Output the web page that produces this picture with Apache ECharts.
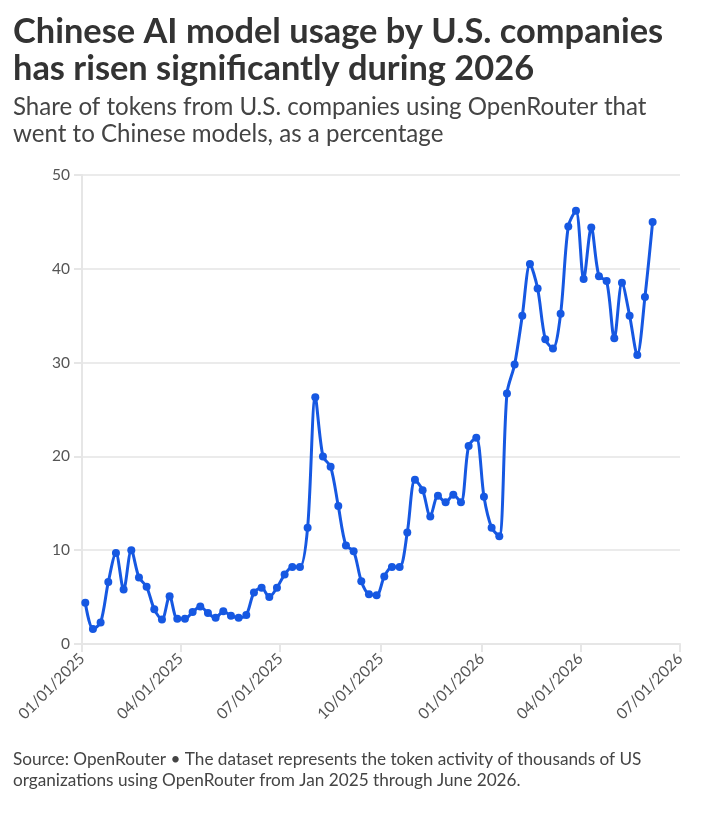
<!DOCTYPE html>
<html>
<head>
<meta charset="utf-8">
<script src="https://cdn.jsdelivr.net/npm/echarts@6/dist/echarts.min.js"></script>
<style>
html,body{margin:0;padding:0;background:#fff;}
#chart{width:727px;height:832px;}
</style>
</head>
<body>
<div id="chart"></div>
<script>
// ---- data ----
const weekDates = [
 '2025-01-04','2025-01-11','2025-01-18','2025-01-25','2025-02-01','2025-02-08','2025-02-15','2025-02-22',
 '2025-03-01','2025-03-08','2025-03-15','2025-03-22','2025-03-29','2025-04-05','2025-04-12','2025-04-19',
 '2025-04-26','2025-05-03','2025-05-10','2025-05-17','2025-05-24','2025-05-31','2025-06-07','2025-06-14',
 '2025-06-21','2025-06-28','2025-07-05','2025-07-12','2025-07-19','2025-07-26','2025-08-02','2025-08-09',
 '2025-08-16','2025-08-23','2025-08-30','2025-09-06','2025-09-13','2025-09-20','2025-09-27','2025-10-04',
 '2025-10-11','2025-10-18','2025-10-25','2025-11-01','2025-11-08','2025-11-15','2025-11-22','2025-11-29',
 '2025-12-06','2025-12-13','2025-12-20','2025-12-27','2026-01-03','2026-01-10','2026-01-17','2026-01-24',
 '2026-01-31','2026-02-07','2026-02-14','2026-02-21','2026-02-28','2026-03-07','2026-03-14','2026-03-21',
 '2026-03-28','2026-04-04','2026-04-11','2026-04-18','2026-04-25','2026-05-02','2026-05-09','2026-05-16',
 '2026-05-23','2026-05-30','2026-06-06'
];
const sharePct = [
 4.4, 1.6, 2.3, 6.6, 9.7, 5.8, 10.0, 7.1, 6.1, 3.7,
 2.6, 5.1, 2.7, 2.7, 3.4, 4.0, 3.3, 2.8, 3.5, 3.0,
 2.8, 3.1, 5.5, 6.0, 5.0, 6.0, 7.4, 8.2, 8.2, 12.4,
 26.3, 20.0, 18.9, 14.7, 10.5, 9.9, 6.7, 5.3, 5.2, 7.2,
 8.2, 8.2, 11.9, 17.5, 16.4, 13.6, 15.8, 15.1, 15.9, 15.1,
 21.1, 22.0, 15.7, 12.4, 11.5, 26.7, 29.8, 35.0, 40.5, 37.9,
 32.5, 31.5, 35.2, 44.5, 46.2, 38.9, 44.4, 39.2, 38.7, 32.6,
 38.5, 35.0, 30.8, 37.0, 45.0
];
const xTickDates = ['2025-01-01','2025-04-01','2025-07-01','2025-10-01','2026-01-01','2026-04-01','2026-07-01'];
const yTicks = [0, 10, 20, 30, 40, 50];

const titleLines = ['Chinese AI model usage by U.S. companies', 'has risen significantly during 2026'];
const subtitleLines = ['Share of tokens from U.S. companies using OpenRouter that', 'went to Chinese models, as a percentage'];
const footerLines = ['Source: OpenRouter \u2022 The dataset represents the token activity of thousands of US',
                     'organizations using OpenRouter from Jan 2025 through June 2026.'];

// ---- helpers ----
function toTime(s){ const p = s.split('-').map(Number); return Date.UTC(p[0], p[1]-1, p[2]); }
function pad(n){ return (n<10?'0':'')+n; }
const FAMILY = 'Lato, "Noto Sans", sans-serif';
const cv = document.createElement('canvas').getContext('2d');
function fitSize(text, weight, target){
  cv.font = weight + ' 100px ' + FAMILY;
  const w = cv.measureText(text).width;
  return Math.round(100 * target / w * 10) / 10;
}

const seriesData = weekDates.map((d, i) => [toTime(d), sharePct[i]]);
const tickTimes = xTickDates.map(toTime);

const titleSize = fitSize(titleLines[0], 'bold', 650);
const subSize = fitSize(subtitleLines[0], 'normal', 634);
const footSize = fitSize(footerLines[0], 'normal', 628);

function textEl(str, y, size, weight, color){
  return { type:'text', left:13, top:y - size*0.6, style:{ text:str, fontFamily:FAMILY, fontSize:size, fontWeight:weight, fill:color } };
}

const chart = echarts.init(document.getElementById('chart'), null, {renderer:'canvas'});
chart.setOption({
  animation:false,
  backgroundColor:'#fff',
  grid:{ left:82, right:47, top:175, bottom:188, containLabel:false },
  graphic:[
    textEl(titleLines[0], 36, titleSize, 'bold', '#333'),
    textEl(titleLines[1], 73, titleSize, 'bold', '#333'),
    textEl(subtitleLines[0], 110, subSize, 'normal', '#444'),
    textEl(subtitleLines[1], 137, subSize, 'normal', '#444'),
    textEl(footerLines[0], 761, footSize, 'normal', '#444'),
    textEl(footerLines[1], 782, footSize, 'normal', '#444')
  ],
  xAxis:{
    type:'value',
    min: tickTimes[0],
    max: tickTimes[tickTimes.length-1],
    axisLine:{ show:true, lineStyle:{ color:'#e6e6e6', width:2 } },
    axisTick:{ show:true, customValues: tickTimes, length:8, lineStyle:{ color:'#e6e6e6', width:2 } },
    splitLine:{ show:false },
    axisLabel:{
      customValues: tickTimes,
      rotate:45,
      margin:12,
      color:'#555',
      fontSize:15.5,
      fontFamily:FAMILY,
      formatter: function(v){ const d = new Date(v); return pad(d.getUTCMonth()+1)+'/'+pad(d.getUTCDate())+'/'+d.getUTCFullYear(); }
    }
  },
  yAxis:{
    type:'value',
    min: yTicks[0],
    max: yTicks[yTicks.length-1],
    interval: 10,
    axisLine:{ show:true, lineStyle:{ color:'#e6e6e6', width:2 } },
    axisTick:{ show:true, length:8, lineStyle:{ color:'#e6e6e6', width:2 } },
    splitLine:{ show:true, lineStyle:{ color:'#ebebeb', width:2 } },
    axisLabel:{ color:'#555', fontSize:15.5, fontFamily:FAMILY, margin:12 }
  },
  series:[{
    type:'line',
    data: seriesData,
    smooth:0.3,
    symbol:'circle',
    symbolSize:8,
    showAllSymbol:true,
    itemStyle:{ color:'#1658e2' },
    lineStyle:{ color:'#1658e2', width:3 }
  }]
});
</script>
</body>
</html>
